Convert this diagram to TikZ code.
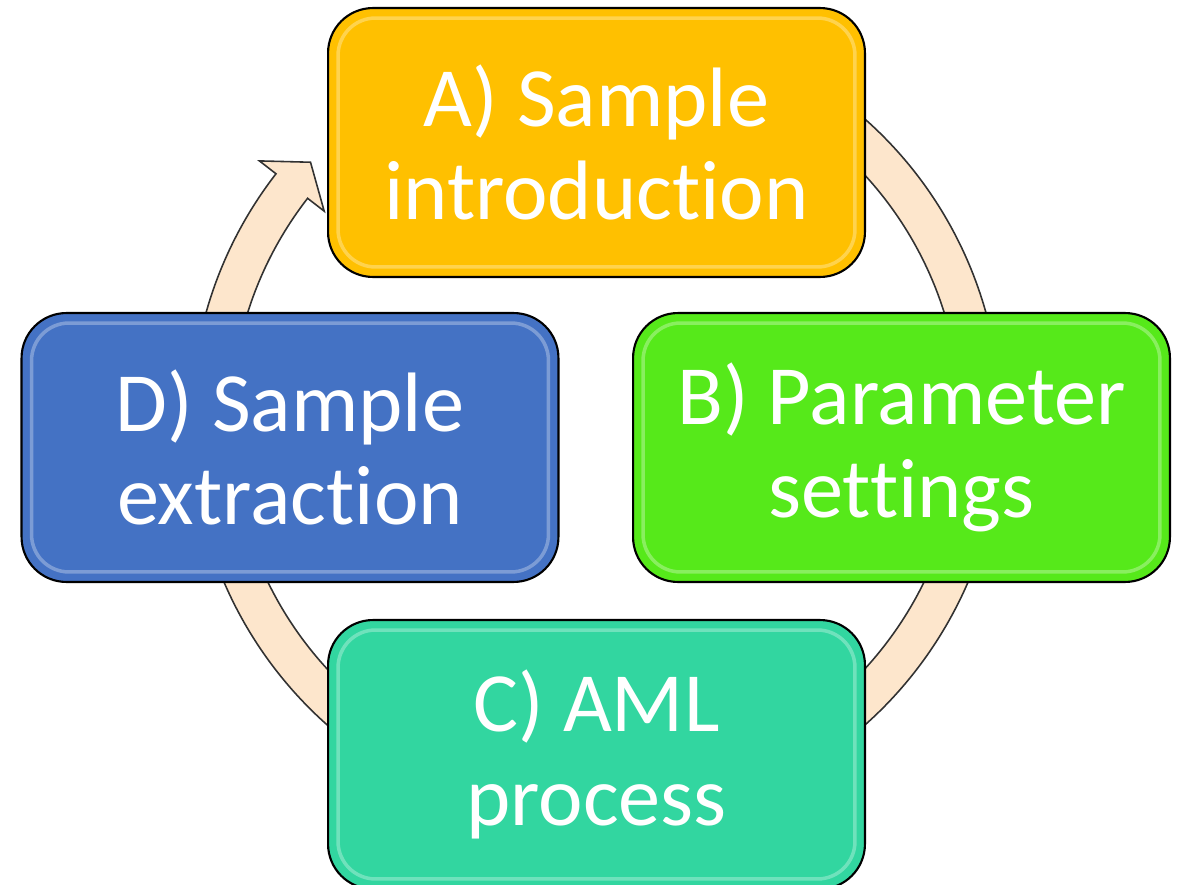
\documentclass[tikz,border=0pt]{standalone}
\usepackage{fontspec}
\setmainfont{Carlito}[Ligatures=NoCommon]
\definecolor{boxA}{RGB}{255,192,0}
\definecolor{boxB}{RGB}{86,233,26}
\definecolor{boxC}{RGB}{50,214,160}
\definecolor{boxD}{RGB}{68,114,196}
\definecolor{ringfill}{RGB}{253,230,204}
\definecolor{ringline}{RGB}{50,50,50}

\begin{document}
\begin{tikzpicture}[x=0.02cm,y=-0.02cm,
  stagebox/.style={draw=black,line width=1.2pt,rounded corners=0.9cm,
    minimum width=10.74cm,minimum height=5.38cm,inner sep=0pt,
    text=white,align=center,font=\fontsize{48}{53}\selectfont,
    path picture={\draw[white,opacity=0.3,line width=2pt,rounded corners=0.75cm]
      ([shift={(0.2cm,-0.2cm)}]path picture bounding box.north west) rectangle
      ([shift={(-0.2cm,0.2cm)}]path picture bounding box.south east);}},
  ring/.style={fill=ringfill,draw=ringline,line width=0.9pt,line join=miter}]
  \useasboundingbox (0,0) rectangle (1186,885);
  \clip (0,0) rectangle (1186,885);
  % Cycle arrow behind the boxes
  \begin{scope}[shift={(596,422)}]
    \draw[ring] (-60:405) arc[start angle=-60,end angle=217.8,radius=405]
      -- (217.8:426) -- (222.3:386) -- (217.8:344) -- (217.8:365)
      arc[start angle=217.8,end angle=-60,radius=365] -- cycle;
  \end{scope}
  % Stages
  \node[stagebox,fill=boxA] (intro) at (596.5,142.5) {A) Sample\\introduction};
  \node[stagebox,fill=boxB] (param) at (901.5,447.5) {B) Parameter\\settings};
  \node[stagebox,fill=boxC] (aml) at (596.5,754.5) {C) AML\\process};
  \node[stagebox,fill=boxD] (extract) at (290,447.5) {D) Sample\\extraction};
\end{tikzpicture}
\end{document}
